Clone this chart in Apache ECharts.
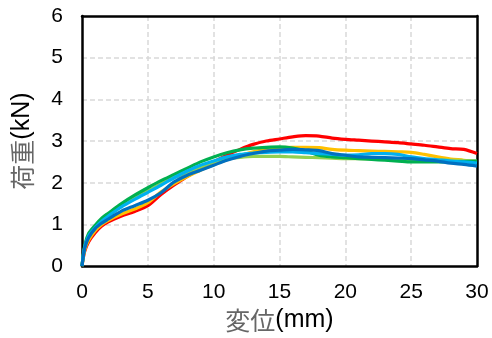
<!DOCTYPE html>
<html><head><meta charset="utf-8">
<script src="https://cdn.jsdelivr.net/npm/echarts@6/dist/echarts.min.js"></script>
<style>html,body{margin:0;padding:0;background:#fff}#c{width:492px;height:338px}</style>
</head><body><div id="c"></div>
<script>
const xs = [0, 0.2, 0.5, 1, 1.5, 2, 3, 4, 5, 6, 7, 8, 9, 10, 11, 12, 13, 14, 15, 16, 17, 18, 19, 20, 21, 22, 23, 24, 25, 26, 27, 28, 29, 30];
const red    = [0, 0.35, 0.58, 0.8, 0.96, 1.06, 1.2, 1.31, 1.45, 1.72, 1.95, 2.15, 2.35, 2.5, 2.66, 2.8, 2.92, 3.0, 3.05, 3.1, 3.13, 3.12, 3.07, 3.04, 3.02, 3.0, 2.98, 2.96, 2.93, 2.9, 2.86, 2.82, 2.8, 2.7];
const orange = [0, 0.38, 0.62, 0.85, 1.0, 1.1, 1.25, 1.37, 1.52, 1.78, 1.98, 2.15, 2.3, 2.43, 2.55, 2.65, 2.74, 2.8, 2.84, 2.85, 2.85, 2.84, 2.8, 2.78, 2.77, 2.76, 2.75, 2.74, 2.73, 2.68, 2.62, 2.57, 2.54, 2.5];
const lgreen = [0, 0.45, 0.72, 0.95, 1.12, 1.25, 1.48, 1.65, 1.8, 1.98, 2.12, 2.25, 2.38, 2.5, 2.57, 2.61, 2.63, 2.63, 2.63, 2.62, 2.61, 2.6, 2.59, 2.58, 2.58, 2.57, 2.56, 2.56, 2.55, 2.55, 2.55, 2.54, 2.53, 2.52];
const green  = [0, 0.48, 0.78, 0.98, 1.15, 1.27, 1.5, 1.7, 1.88, 2.05, 2.2, 2.35, 2.5, 2.62, 2.72, 2.79, 2.83, 2.85, 2.86, 2.83, 2.76, 2.66, 2.62, 2.6, 2.58, 2.56, 2.54, 2.52, 2.5, 2.5, 2.5, 2.5, 2.51, 2.52];
const lblue  = [0, 0.45, 0.72, 0.92, 1.08, 1.2, 1.42, 1.6, 1.77, 1.94, 2.12, 2.28, 2.42, 2.52, 2.62, 2.68, 2.71, 2.73, 2.74, 2.74, 2.72, 2.7, 2.68, 2.66, 2.67, 2.7, 2.7, 2.68, 2.62, 2.58, 2.55, 2.52, 2.5, 2.47];
const blue   = [0, 0.42, 0.68, 0.9, 1.03, 1.13, 1.32, 1.45, 1.58, 1.76, 2.02, 2.18, 2.3, 2.42, 2.54, 2.63, 2.7, 2.76, 2.78, 2.8, 2.79, 2.77, 2.7, 2.66, 2.62, 2.61, 2.6, 2.59, 2.58, 2.55, 2.52, 2.47, 2.44, 2.4];
const xTicks = [0, 5, 10, 15, 20, 25, 30];
const yTicks = [0, 1, 2, 3, 4, 5, 6];

const seriesDefs = [
  {name: 'A', data: red, color: '#ff0000'},
  {name: 'B', data: orange, color: '#ffc000'},
  {name: 'C', data: lgreen, color: '#92d050'},
  {name: 'D', data: green, color: '#00b050'},
  {name: 'E', data: lblue, color: '#00b0f0'},
  {name: 'F', data: blue, color: '#0070c0'}
];

const chart = echarts.init(document.getElementById('c'), null, {renderer: 'canvas'});
const gridLine = {show: true, showMinLine: false, showMaxLine: false, lineStyle: {color: '#d9d9d9', width: 1.5, type: [5, 3]}};
const frameAxis = {show: true, onZero: false, lineStyle: {color: '#000', width: 2.5}};
chart.setOption({
  animation: false,
  grid: {left: 82, right: 15, top: 16, bottom: 69},
  xAxis: [{
    type: 'value', min: xTicks[0], max: xTicks[xTicks.length - 1], interval: 5,
    axisLine: frameAxis,
    axisTick: {show: false},
    splitLine: gridLine,
    axisLabel: {color: '#000', fontSize: 21, fontFamily: 'Liberation Sans, Arial', margin: 16},
    name: '{j|変位}{l|(mm)}', nameLocation: 'middle', nameGap: 36,
    nameTextStyle: {rich: {
      j: {fontSize: 25, color: '#666', fontFamily: 'Noto Sans CJK JP'},
      l: {fontSize: 25, color: '#000', fontFamily: 'Liberation Sans, Arial'}
    }}
  }, {
    type: 'value', position: 'top', min: xTicks[0], max: xTicks[xTicks.length - 1], interval: 5,
    axisLine: frameAxis, axisTick: {show: false}, axisLabel: {show: false}, splitLine: {show: false}
  }],
  yAxis: [{
    type: 'value', min: yTicks[0], max: yTicks[yTicks.length - 1], interval: 1,
    axisLine: frameAxis,
    axisTick: {show: false},
    splitLine: gridLine,
    axisLabel: {color: '#000', fontSize: 21, fontFamily: 'Liberation Sans, Arial', margin: 19},
    name: '{j|荷重}{l|(kN)}', nameLocation: 'middle', nameGap: 47, nameRotate: 90,
    nameTextStyle: {rich: {
      j: {fontSize: 25, color: '#666', fontFamily: 'Noto Sans CJK JP'},
      l: {fontSize: 25, color: '#000', fontFamily: 'Liberation Sans, Arial'}
    }}
  }, {
    type: 'value', position: 'right', min: yTicks[0], max: yTicks[yTicks.length - 1], interval: 1,
    axisLine: frameAxis, axisTick: {show: false}, axisLabel: {show: false}, splitLine: {show: false}
  }],
  series: seriesDefs.map(s => ({
    type: 'line', name: s.name, smooth: 0.3, showSymbol: false,
    data: xs.map((x, i) => [x, s.data[i]]),
    lineStyle: {color: s.color, width: 3.2},
    itemStyle: {color: s.color}
  }))
});
</script></body></html>
